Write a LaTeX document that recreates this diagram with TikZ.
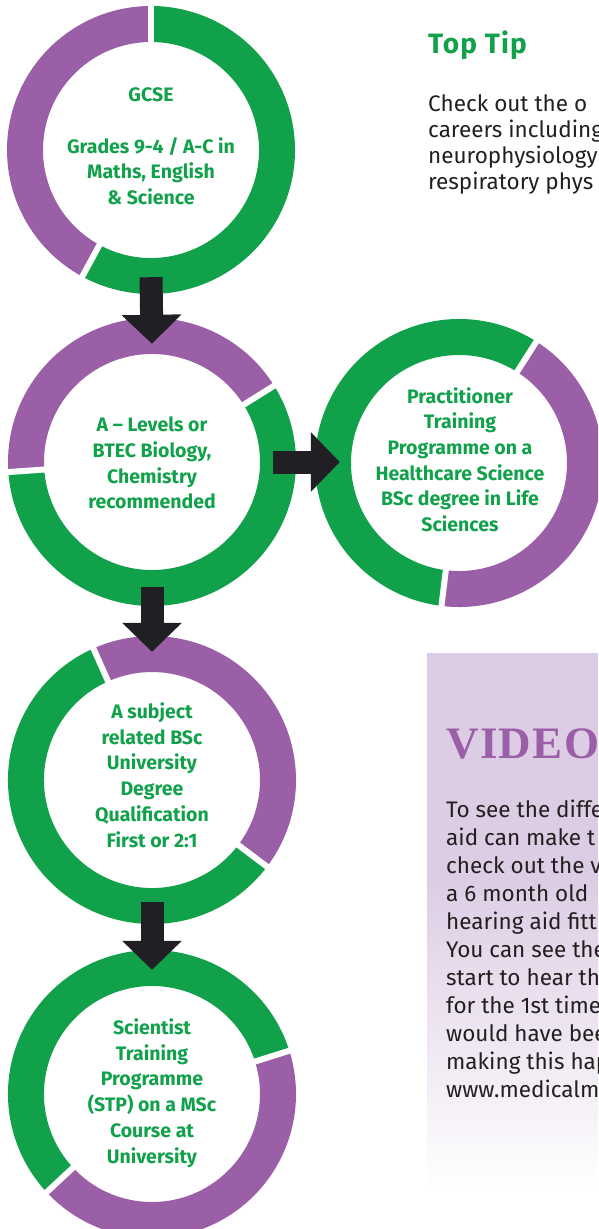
\documentclass[tikz,border=0pt]{standalone}
\usepackage{fontspec}
\setmainfont{Fira Sans}
\newfontfamily\vidfont{Liberation Serif}[LetterSpace=3]
\newfontfamily\tipfont{Fira Sans}[LetterSpace=4]
\usetikzlibrary{arrows.meta}
\definecolor{rgreen}{HTML}{12A14B}
\definecolor{rpurple}{HTML}{9A5FA6}
\definecolor{rdark}{HTML}{201F24}
\definecolor{rlav}{HTML}{DDCDE4}
\definecolor{rtext}{HTML}{231F20}
\newcommand\rseg[4]{\draw[seg,#2] (#1.center) ++(#3:126) arc[start angle=#3,end angle=#4,radius=126];}
\newcommand\rgap[2]{\draw[gapline] (#1.center) ++(#2:100) -- ++(#2:52);}
\begin{document}
\begin{tikzpicture}[x=1pt,y=1pt,
  ring/.style={circle, minimum size=288pt, inner sep=0pt},
  ringtext/.style={align=center, text=rgreen, inner sep=0pt,
    font=\fontsize{19.5}{25.7}\selectfont\bfseries},
  seg/.style={line width=36pt},
  gapline/.style={white, line width=6pt},
  conn/.style={rdark, line width=23pt, -{Triangle[length=29pt,width=58pt]}},
  body/.style={anchor=base west, text=rtext, inner sep=0pt,
    font=\fontsize{22.5}{26}\selectfont},
]
\useasboundingbox (0,0) rectangle (598,-1229);
\clip (0,0) rectangle (598,-1229);

% rings
\node[ring] (g1) at (151,-150) {};
\node[ring] (g2) at (152,-462) {};
\node[ring] (g5) at (459,-463) {};
\node[ring] (g3) at (152,-780) {};
\node[ring] (g4) at (152,-1094) {};

\rseg{g1}{rpurple}{90}{241.5}
\rseg{g1}{rgreen}{241.5}{450}
\rgap{g1}{90}\rgap{g1}{241.5}

\rseg{g2}{rpurple}{32}{184}
\rseg{g2}{rgreen}{184}{392}
\rgap{g2}{32}\rgap{g2}{184}

\rseg{g5}{rgreen}{57.5}{263}
\rseg{g5}{rpurple}{263}{417.5}
\rgap{g5}{57.5}\rgap{g5}{263}

\rseg{g3}{rpurple}{-37}{114}
\rseg{g3}{rgreen}{114}{323}
\rgap{g3}{-37}\rgap{g3}{114}

\rseg{g4}{rgreen}{17.5}{223}
\rseg{g4}{rpurple}{223}{377.5}
\rgap{g4}{17.5}\rgap{g4}{223}

% ring texts
\node[ringtext] (t1) at ([yshift=3.5pt]g1.center) {GCSE\\[25.7pt]Grades 9-4 / A-C in\\Maths, English\\\& Science};
\node[ringtext] (t2) at ([yshift=-1pt]g2.center) {A – Levels or\\BTEC Biology,\\Chemistry\\recommended};
\node[ringtext] (t5) at ([xshift=1pt,yshift=3.5pt]g5.center) {Practitioner\\Training\\Programme on a\\Healthcare Science\\BSc degree in Life\\Sciences};
\node[ringtext] (t3) at ([yshift=5pt]g3.center) {A subject\\related BSc\\University\\Degree\\Qualification\\First or 2:1};
\node[ringtext] (t4) at ([yshift=1pt]g4.center) {Scientist\\Training\\Programme\\(STP) on a MSc\\Course at\\University};

% connectors
\draw[conn] ([yshift=17pt]g1.south) -- ([yshift=-26pt]g2.north);
\draw[conn] ([yshift=19pt]g2.south) -- ([yshift=-16pt]g3.north);
\draw[conn] ([yshift=22pt]g3.south) -- ([yshift=-20pt]g4.north);
\draw[conn] ([xshift=-23pt]g2.east) -- ([xshift=25pt]g2.east -| g5.west);

% top tip
\node[anchor=base west, inner sep=0pt, text=rgreen, font=\fontsize{28}{30}\tipfont\bfseries] (tt) at (428,-53) {Top Tip};
\node[body] (b1) at (428,-111) {Check out the o};
\node[body] (b2) at (428,-137) {careers including};
\node[body] (b3) at (428,-163) {neurophysiology};
\node[body] (b4) at (428,-189) {respiratory phys};

% video box
\fill[rlav] (427,-653) rectangle (598,-880);
\shade[top color=rlav, bottom color=white] (427,-879.5) rectangle (598,-1190);
\node[anchor=base west, inner sep=0pt, text=rpurple, font=\fontsize{45}{47}\vidfont\bfseries] (vt) at (446,-758) {VIDEO};
\foreach \t [count=\i] in {To see the diffe, aid can make t, check out the v, a 6 month old, hearing aid fitt, You can see the, start to hear th, for the 1st time, would have bee, making this hap, www.medicalm}{
  \node[body] (v\i) at (446,{-817-28*(\i-1)}) {\t};
}
\end{tikzpicture}
\end{document}
